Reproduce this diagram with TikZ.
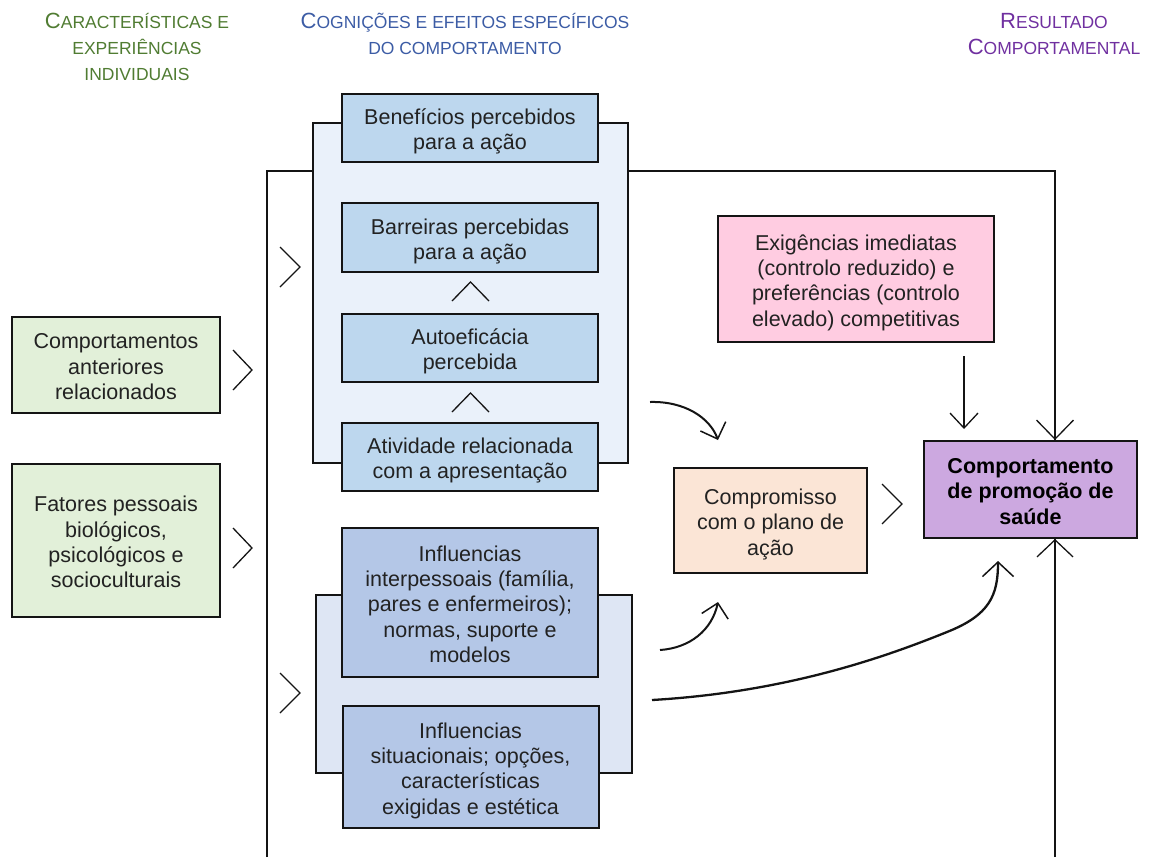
\documentclass[tikz,border=0pt]{standalone}
\usepackage{fontspec}
\setmainfont{Liberation Sans}
\usetikzlibrary{arrows.meta}
\definecolor{textc}{RGB}{34,34,34}
\definecolor{linec}{RGB}{20,20,20}
\definecolor{hdrgreen}{RGB}{80,124,50}
\definecolor{hdrblue}{RGB}{60,92,165}
\definecolor{hdrpurple}{RGB}{112,48,160}
\definecolor{upin}{RGB}{189,215,238}
\definecolor{upout}{RGB}{234,241,250}
\definecolor{loin}{RGB}{180,199,231}
\definecolor{loout}{RGB}{222,230,244}
\definecolor{greenbox}{RGB}{226,240,217}
\definecolor{pinkbox}{RGB}{255,204,225}
\definecolor{peachbox}{RGB}{251,229,214}
\definecolor{purplebox}{RGB}{204,168,224}
\newcommand\bigL[1]{{\fontsize{22}{26}\selectfont #1}}
\newcommand\ts{\rule{0pt}{23pt}}
\newcommand\bs{\rule[-4.6pt]{0pt}{4.6pt}}
\begin{document}
\begin{tikzpicture}[x=1pt,y=-1pt,
  hdr/.style={inner sep=0pt, anchor=base, font=\fontsize{17.5}{26}\selectfont},
  box/.style={draw=linec, line width=2pt, inner sep=0pt, align=center, text=textc,
              font=\fontsize{21.5}{25.3}\selectfont},
  container/.style={draw=linec, line width=2pt},
  framel/.style={draw=linec, line width=2.2pt},
  chev/.style={draw=linec, line width=1.3pt},
  curvearr/.style={draw=linec, line width=2pt},
]
\useasboundingbox (0,0) rectangle (1156,857);

% headers
\node[hdr, text=hdrgreen] (h1a) at (137,28) {\bigL{C}ARACTERÍSTICAS E};
\node[hdr, text=hdrgreen] (h1b) at (137,54) {EXPERIÊNCIAS};
\node[hdr, text=hdrgreen] (h1c) at (137,80) {INDIVIDUAIS};
\node[hdr, text=hdrblue] (h2a) at (465,28) {\bigL{C}OGNIÇÕES E EFEITOS ESPECÍFICOS};
\node[hdr, text=hdrblue] (h2b) at (465,54) {DO COMPORTAMENTO};
\node[hdr, text=hdrpurple] (h3a) at (1054,28) {\bigL{R}ESULTADO};
\node[hdr, text=hdrpurple] (h3b) at (1054,54) {\bigL{C}OMPORTAMENTAL};

% frame coordinates
\coordinate (fbl) at (267,857);
\coordinate (ftl) at (267,171);
\coordinate (ftr) at (1055,171);
\coordinate (fbr) at (1055,857);
\draw[framel] (fbl) -- (ftl) -- (ftr) -- (fbr);

% containers
\node[container, fill=upout, minimum width=315pt, minimum height=340pt] (upc) at (470.5,293) {};
\node[container, fill=loout, minimum width=316pt, minimum height=178pt] (loc) at (474,684) {};

% upper boxes
\node[box, fill=upin, minimum width=256pt, minimum height=68pt] (ben) at (470,128) {\ts Benefícios percebidos\\para a ação\bs};
\node[box, fill=upin, minimum width=256pt, minimum height=69pt] (bar) at (470,237.5) {\ts Barreiras percebidas\\para a ação\bs};
\node[box, fill=upin, minimum width=256pt, minimum height=68pt] (aut) at (470,348) {\ts Autoeficácia\\percebida\bs};
\node[box, fill=upin, minimum width=256pt, minimum height=68pt] (ati) at (470,457) {\ts Atividade relacionada\\com a apresentação\bs};

% lower boxes
\node[box, fill=loin, minimum width=256pt, minimum height=149pt] (inter) at (470,602.5) {\ts Influencias\\interpessoais (família,\\pares e enfermeiros);\\normas, suporte e\\modelos\bs};
\node[box, fill=loin, minimum width=256pt, minimum height=122pt] (situ) at (470.5,767) {\ts Influencias\\situacionais; opções,\\características\\exigidas e estética\bs};

% left boxes
\node[box, fill=greenbox, minimum width=208pt, minimum height=96pt] (comp) at (116,365) {\ts Comportamentos\\anteriores\\relacionados\bs};
\node[box, fill=greenbox, minimum width=208pt, minimum height=153pt] (fat) at (116,540.5) {\ts Fatores pessoais\\biológicos,\\psicológicos e\\socioculturais\bs};

% right boxes
\node[box, fill=peachbox, minimum width=193pt, minimum height=105pt] (compro) at (770.5,520.5) {\ts Compromisso\\com o plano de\\ação\bs};
\node[box, fill=pinkbox, minimum width=276pt, minimum height=126pt] (exig) at (856,279) {\ts Exigências imediatas\\(controlo reduzido) e\\preferências (controlo\\elevado) competitivas\bs};
\node[box, fill=purplebox, minimum width=213pt, minimum height=97pt, font=\fontsize{21.5}{25.3}\selectfont\bfseries, text=black] (prom) at (1030.5,489.5) {\ts Comportamento\\de promoção de\\saúde\bs};

% frame arrow tips into the outcome box
\draw[framel, -{Straight Barb[length=19pt,width=37pt,line width=1.3pt]}] (ftr) -- (ftr |- prom.north);
\draw[framel, -{Straight Barb[length=17pt,width=36pt,line width=1.3pt]}] (fbr) -- (fbr |- prom.south);

% chevrons
\draw[chev] (233,350) -- (252,370) -- (233,390);
\draw[chev] (233,528) -- (252,548) -- (233,568);
\draw[chev] (280,247) -- (300,267) -- (280,287);
\draw[chev] (280,673) -- (300,693) -- (280,713);
\draw[chev] (452,301) -- (470.5,282) -- (489,301);
\draw[chev] (452,412) -- (470.5,393) -- (489,412);
\draw[chev] (882,484) -- (902,504) -- (882,524);

% pink to outcome arrow
\draw[draw=linec, line width=1.6pt, -{Straight Barb[length=15pt,width=28pt,line width=1.3pt]}]
  ([xshift=108pt,yshift=-13pt]exig.south) -- ([xshift=-66.5pt,yshift=11pt]prom.north);

% curved arrows
\coordinate (c1s) at (650,402);
\coordinate (c1e) at (718,440);
\coordinate (c2s) at (660,650);
\coordinate (c2e) at (718,602);
\coordinate (c3s) at (652,700);
\coordinate (c3m) at (947,632);
\coordinate (c3e) at (998,561);
\draw[curvearr, -{Straight Barb[length=13.5pt,width=27pt,line width=1.5pt]}]
  (c1s) .. controls (685,401) and (710,418) .. (c1e);
\draw[curvearr, -{Straight Barb[length=13.5pt,width=27pt,line width=1.5pt]}]
  (c2s) .. controls (690,648) and (712,630) .. (c2e);
\draw[curvearr, line width=2.3pt, -{Straight Barb[length=14.5pt,width=31pt,line width=1.5pt]}]
  (c3s) .. controls (790,692) and (890,655) .. (c3m) .. controls (990,615) and (998,595) .. (c3e);
\end{tikzpicture}
\end{document}
